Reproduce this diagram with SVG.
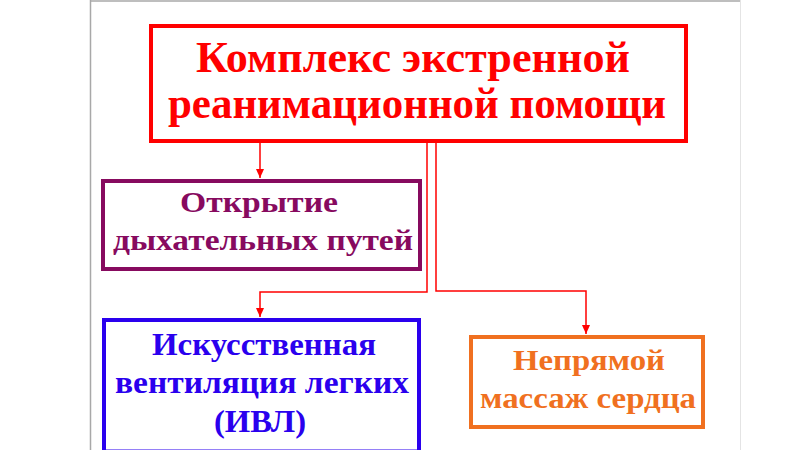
<svg xmlns="http://www.w3.org/2000/svg" width="800" height="450" viewBox="0 0 800 450">
<defs>
<style>
.t{font-family:"Liberation Serif","Times New Roman",serif;font-weight:bold;}
.box{fill:#fff;stroke-width:4;}
.c{fill:none;stroke:#f00;stroke-width:1.5;}
</style>
<marker id="ah" markerWidth="10" markerHeight="10" refX="9" refY="5" orient="auto" markerUnits="userSpaceOnUse">
<path d="M0,1 L9,5 L0,9 Z" fill="#f00"/>
</marker>
</defs>
<rect x="0" y="0" width="800" height="450" fill="#fff"/>
<line x1="90.5" y1="0" x2="90.5" y2="450" stroke="#a8a8a8" stroke-width="1.5"/>
<line x1="90" y1="1" x2="740" y2="1" stroke="#a8a8a8" stroke-width="1.5"/>
<line x1="740.5" y1="0" x2="740.5" y2="450" stroke="#e4e4e4" stroke-width="1"/>

<g id="connectors">
<path class="c" d="M260,141 V178" marker-end="url(#ah)"/>
<path class="c" d="M427,141 V292 H260 V317" marker-end="url(#ah)"/>
<path class="c" d="M436,141 V291 H586 V334" marker-end="url(#ah)"/>
</g>

<g id="main">
<rect class="box" x="151" y="26" width="535" height="115" stroke="#f00"/>
<text class="t" x="413" y="72" font-size="45" fill="#f00" text-anchor="middle" textLength="434" lengthAdjust="spacingAndGlyphs">Комплекс экстренной</text>
<text class="t" x="417" y="118" font-size="45" fill="#f00" text-anchor="middle" textLength="498" lengthAdjust="spacingAndGlyphs">реанимационной помощи</text>
</g>

<g id="airway">
<rect class="box" x="103" y="181" width="317" height="88" stroke="#870a5f"/>
<text class="t" x="259" y="212" font-size="30" fill="#870a5f" text-anchor="middle" textLength="158" lengthAdjust="spacingAndGlyphs">Открытие</text>
<text class="t" x="263" y="250" font-size="30" fill="#870a5f" text-anchor="middle" textLength="300" lengthAdjust="spacingAndGlyphs">дыхательных путей</text>
</g>

<g id="ivl">
<rect class="box" x="104" y="320" width="315" height="131.5" stroke="#2a00ee"/>
<text class="t" x="264" y="355" font-size="32" fill="#2a00ee" text-anchor="middle" textLength="224" lengthAdjust="spacingAndGlyphs">Искусственная</text>
<text class="t" x="262" y="393" font-size="32" fill="#2a00ee" text-anchor="middle" textLength="294" lengthAdjust="spacingAndGlyphs">вентиляция легких</text>
<text class="t" x="260" y="432" font-size="32" fill="#2a00ee" text-anchor="middle" textLength="92" lengthAdjust="spacingAndGlyphs">(ИВЛ)</text>
</g>

<g id="massage">
<rect class="box" x="471" y="337" width="232" height="90" stroke="#f07020"/>
<text class="t" x="589" y="370" font-size="30" fill="#f07020" text-anchor="middle" textLength="152" lengthAdjust="spacingAndGlyphs">Непрямой</text>
<text class="t" x="588" y="408" font-size="30" fill="#f07020" text-anchor="middle" textLength="216" lengthAdjust="spacingAndGlyphs">массаж сердца</text>
</g>
</svg>
